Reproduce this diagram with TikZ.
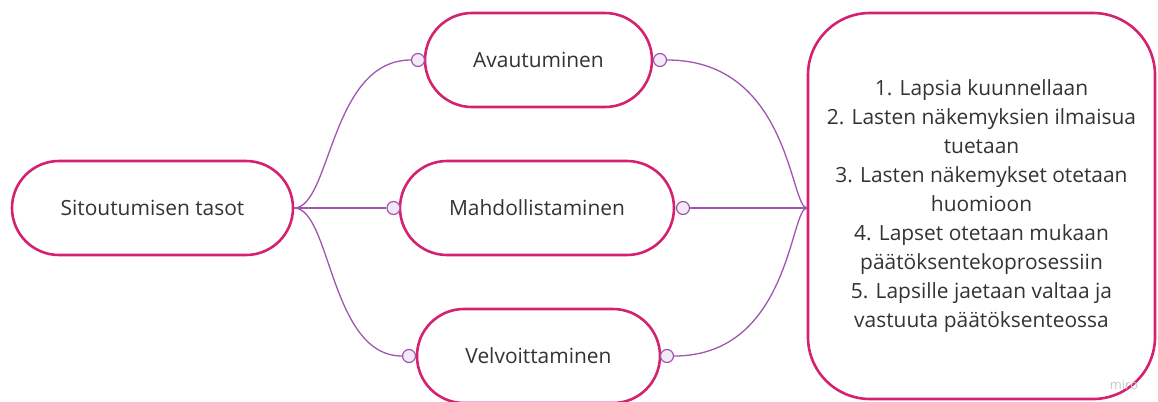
\documentclass[tikz,border=0pt]{standalone}
\usepackage{fontspec}
\setmainfont{Open Sans}
\definecolor{bord}{RGB}{212,34,112}
\definecolor{conn}{RGB}{160,85,175}
\definecolor{cfill}{RGB}{242,234,246}
\definecolor{txt}{RGB}{51,51,51}
\begin{document}
\begin{tikzpicture}[x=1bp,y=-1bp,
  pill/.style={draw=bord,line width=2.6bp,fill=white,rounded corners=47bp,minimum height=94bp,inner sep=0pt,text=txt,font=\fontsize{21}{25}\selectfont},
  dot/.style={circle,draw=conn,fill=cfill,line width=1.2bp,minimum size=13bp,inner sep=0pt},
  link/.style={draw=conn,line width=1.3bp}]
\useasboundingbox (0,0) rectangle (1158,401);
\node[pill,minimum width=281bp] (L) at (152.5,208) {Sitoutumisen tasot};
\node[pill,minimum width=227bp] (A) at (538.5,60) {Avautuminen};
\node[pill,minimum width=274bp] (M) at (537,208) {Mahdollistaminen};
\node[pill,minimum width=243bp] (V) at (538.5,356) {Velvoittaminen};
\node[draw=bord,line width=2.6bp,fill=white,rounded corners=62bp,minimum width=347bp,minimum height=386bp,inner sep=0pt,text=txt,align=center,font=\fontsize{21}{29}\selectfont] (R) at (981.5,206) {1. Lapsia kuunnellaan\\2. Lasten näkemyksien ilmaisua\\tuetaan\\3. Lasten näkemykset otetaan\\huomioon\\4. Lapset otetaan mukaan\\päätöksentekoprosessiin\\5. Lapsille jaetaan valtaa ja\\vastuuta päätöksenteossa};
\node[dot] (a1) at (418,60) {};
\node[dot] (a2) at (660,60) {};
\node[dot] (m1) at (393.5,208) {};
\node[dot] (m2) at (683,208) {};
\node[dot] (v1) at (409,356) {};
\node[dot] (v2) at (667,356) {};
\coordinate (Lo) at (294,208);
\coordinate (Ri) at (807,208);
\draw[link] (Lo) .. controls +(37,0) and +(-81,0) .. (a1.west);
\draw[link] (Lo) -- (m1.west);
\draw[link] (Lo) .. controls +(37,0) and +(-72,0) .. (v1.west);
\draw[link] (a2.east) .. controls +(123,0) and +(-17,0) .. (Ri);
\draw[link] (m2.east) -- (Ri);
\draw[link] (v2.east) .. controls +(116,0) and +(-17,0) .. (Ri);
\node[text=black!22,font=\fontsize{13}{15}\selectfont] (w) at (1124,385) {miro};
\end{tikzpicture}
\end{document}
